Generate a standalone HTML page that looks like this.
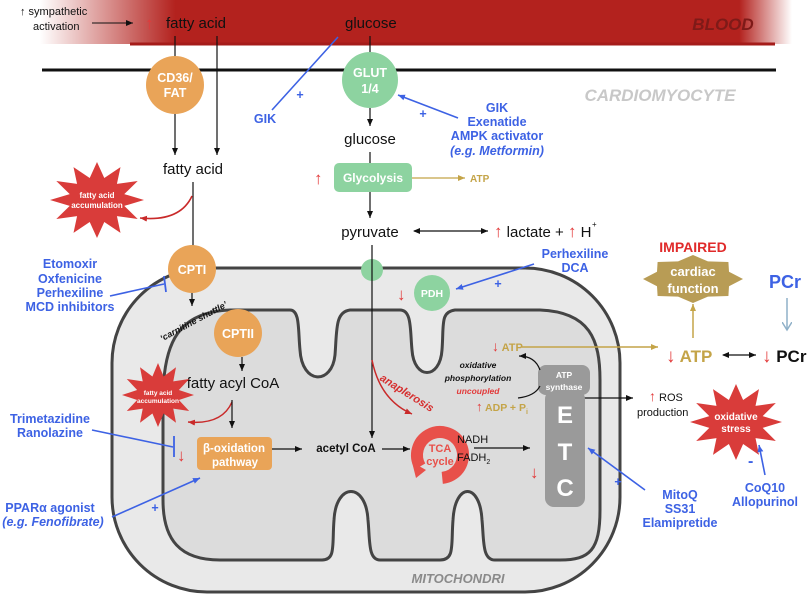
<!DOCTYPE html>
<html><head><meta charset="utf-8"><style>
html,body{margin:0;padding:0;background:#fff}
svg{display:block;font-family:"Liberation Sans",sans-serif}
.b{fill:#3d62e4;font-weight:bold;font-size:12.5px;text-anchor:middle}
.w{fill:#fff;font-weight:bold;text-anchor:middle}
.r{fill:#e23a3a;font-weight:bold}
</style></head><body>
<svg width="812" height="604" viewBox="0 0 812 604" xmlns="http://www.w3.org/2000/svg">
<defs>
<linearGradient id="bl" x1="0" x2="1" y1="0" y2="0">
<stop offset="0" stop-color="#b3221e" stop-opacity="0"/>
<stop offset="0.18" stop-color="#b3221e"/>
<stop offset="0.93" stop-color="#b3221e"/>
<stop offset="1" stop-color="#b3221e" stop-opacity="0"/>
</linearGradient>
<marker id="ak" markerWidth="8" markerHeight="8" refX="7" refY="4" orient="auto" markerUnits="userSpaceOnUse"><path d="M0,1 L7,4 L0,7 Z" fill="#111"/></marker>
<marker id="aks" markerWidth="8" markerHeight="8" refX="1" refY="4" orient="auto" markerUnits="userSpaceOnUse"><path d="M7,1 L0,4 L7,7 Z" fill="#111"/></marker>
<marker id="ag" markerWidth="8" markerHeight="8" refX="7" refY="4" orient="auto" markerUnits="userSpaceOnUse"><path d="M0,1 L7,4 L0,7 Z" fill="#c4a448"/></marker>
<marker id="ab" markerWidth="8" markerHeight="8" refX="7" refY="4" orient="auto" markerUnits="userSpaceOnUse"><path d="M0,1 L7,4 L0,7 Z" fill="#3d62e4"/></marker>
<marker id="ar" markerWidth="8" markerHeight="8" refX="7" refY="4" orient="auto" markerUnits="userSpaceOnUse"><path d="M0,1 L7,4 L0,7 Z" fill="#c92a2a"/></marker>
<marker id="al" markerWidth="10" markerHeight="10" refX="8" refY="5" orient="auto" markerUnits="userSpaceOnUse"><path d="M0,0 L8,5 L0,10" fill="none" stroke="#8fb0c8" stroke-width="1.5"/></marker>
<polygon id="star" points="100,0 58,15.5 86.6,50 42.4,42.4 50,86.6 15.5,58 0,100 -15.5,58 -50,86.6 -42.4,42.4 -86.6,50 -58,15.5 -100,0 -58,-15.5 -86.6,-50 -42.4,-42.4 -50,-86.6 -15.5,-58 0,-100 15.5,-58 50,-86.6 42.4,-42.4 86.6,-50 58,-15.5"/>
</defs>

<!-- blood -->
<rect x="40" y="0" width="752" height="44" fill="url(#bl)"/>
<line x1="130" y1="44" x2="775" y2="44" stroke="#a51c1a" stroke-width="3"/>
<line x1="42" y1="70" x2="776" y2="70" stroke="#111" stroke-width="3"/>
<text x="723" y="30" font-size="17" font-weight="bold" font-style="italic" fill="#7e1a18" text-anchor="middle">BLOOD</text>
<text x="660" y="101" font-size="17" font-weight="bold" font-style="italic" fill="#c8c8c8" text-anchor="middle">CARDIOMYOCYTE</text>

<text x="20" y="15" font-size="11" fill="#111">↑ sympathetic</text>
<text x="33" y="30" font-size="11" fill="#111">activation</text>
<line x1="92" y1="23" x2="133" y2="23" stroke="#111" stroke-width="1" marker-end="url(#ak)"/>
<text x="145" y="29" font-size="17" class="r">↑</text>
<text x="166" y="28" font-size="15" fill="#111">fatty acid</text>
<text x="345" y="28" font-size="15" fill="#111">glucose</text>

<!-- FA transport -->
<line x1="175" y1="36" x2="175" y2="155" stroke="#111" stroke-width="1.2" marker-end="url(#ak)"/>
<line x1="217" y1="36" x2="217" y2="155" stroke="#111" stroke-width="1.2" marker-end="url(#ak)"/>
<circle cx="175" cy="85" r="29" fill="#e9a458"/>
<text x="175" y="82" class="w" font-size="12.5">CD36/</text>
<text x="175" y="97" class="w" font-size="12.5">FAT</text>
<text x="193" y="174" font-size="15" fill="#111" text-anchor="middle">fatty acid</text>
<line x1="193" y1="182" x2="193" y2="250" stroke="#111" stroke-width="1.2"/>
<path d="M192,196 Q180,222 140,218" fill="none" stroke="#c92a2a" stroke-width="1.6" marker-end="url(#ar)"/>
<use href="#star" transform="translate(97,200) scale(0.47,0.38)" fill="#d93c3a"/>
<text x="97" y="198" class="w" font-size="8">fatty acid</text>
<text x="97" y="208" class="w" font-size="8">accumulation</text>

<!-- glucose -->
<line x1="370" y1="36" x2="370" y2="126" stroke="#111" stroke-width="1.2" marker-end="url(#ak)"/>
<circle cx="370" cy="80" r="28" fill="#8dd3a0"/>
<text x="370" y="77" class="w" font-size="12.5">GLUT</text>
<text x="370" y="93" class="w" font-size="12.5">1/4</text>
<line x1="338" y1="37" x2="272" y2="110" stroke="#3d62e4" stroke-width="1.6"/>
<text x="265" y="123" class="b">GIK</text>
<text x="300" y="99" class="b">+</text>
<line x1="458" y1="118" x2="398" y2="95" stroke="#3d62e4" stroke-width="1.6" marker-end="url(#ab)"/>
<text x="423" y="118" class="b">+</text>
<text x="497" y="112" class="b">GIK</text>
<text x="497" y="126" class="b">Exenatide</text>
<text x="497" y="140" class="b">AMPK activator</text>
<text x="497" y="155" class="b" font-style="italic">(e.g. Metformin)</text>
<text x="370" y="144" font-size="15" fill="#111" text-anchor="middle">glucose</text>
<line x1="370" y1="152" x2="370" y2="218" stroke="#111" stroke-width="1.2" marker-end="url(#ak)"/>
<rect x="334" y="163" width="78" height="29" rx="5" fill="#8dd3a0"/>
<text x="373" y="182" class="w" font-size="12">Glycolysis</text>
<text x="314" y="184" font-size="17" class="r">↑</text>
<line x1="412" y1="178" x2="465" y2="178" stroke="#c4a448" stroke-width="1.2" marker-end="url(#ag)"/>
<text x="470" y="182" font-size="10" font-weight="bold" fill="#c4a448">ATP</text>
<text x="370" y="237" font-size="15" fill="#111" text-anchor="middle">pyruvate</text>
<line x1="414" y1="231" x2="488" y2="231" stroke="#111" stroke-width="1.3" marker-end="url(#ak)" marker-start="url(#aks)"/>
<text x="494" y="237" font-size="15" fill="#111"><tspan class="r" font-size="17">↑</tspan> lactate + <tspan class="r" font-size="17">↑</tspan> H</text>
<text x="592" y="227" font-size="8" fill="#111">+</text>

<!-- mitochondrion -->
<rect x="112" y="268" width="508" height="324" rx="95" fill="#e9e9e9" stroke="#444" stroke-width="3"/>
<path d="M163,400 C163,340 180,312 230,310 L290,310 C300,310 298,330 300,350 C302,385 332,385 335,355 C337,330 335,312 350,310 L400,310 C412,310 410,330 412,350 C414,380 440,380 442,350 C444,325 440,312 455,310 L540,310 C590,312 600,340 600,380 L600,510 C600,550 590,560 560,560 L495,560 C482,560 484,540 482,520 C480,482 455,482 453,520 C451,545 455,560 440,560 L380,560 C368,560 370,540 368,520 C366,482 336,482 334,520 C332,545 336,560 322,560 L220,560 C180,560 163,540 163,500 Z" fill="#dcdcdc" stroke="#444" stroke-width="3"/>
<text x="458" y="583" font-size="13" font-weight="bold" font-style="italic" fill="#8a8a8a" text-anchor="middle">MITOCHONDRI</text>

<circle cx="372" cy="270" r="11" fill="#8dd3a0"/>
<line x1="372" y1="245" x2="372" y2="438" stroke="#111" stroke-width="1.2" marker-end="url(#ak)"/>

<!-- CPT -->
<line x1="110" y1="296" x2="164" y2="284" stroke="#3d62e4" stroke-width="1.6"/>
<line x1="164" y1="276" x2="166" y2="292" stroke="#3d62e4" stroke-width="1.8"/>
<text x="70" y="268" class="b">Etomoxir</text>
<text x="70" y="283" class="b">Oxfenicine</text>
<text x="70" y="297" class="b">Perhexiline</text>
<text x="70" y="311" class="b">MCD inhibitors</text>
<line x1="192" y1="292" x2="192" y2="306" stroke="#111" stroke-width="1.2" marker-end="url(#ak)"/>
<circle cx="192" cy="269" r="24" fill="#e9a458"/>
<text x="192" y="274" class="w" font-size="12.5">CPTI</text>
<text x="195" y="324" font-size="9" font-weight="bold" font-style="italic" fill="#111" text-anchor="middle" transform="rotate(-28 195 324)">‘carnitine shuttle’</text>
<circle cx="238" cy="333" r="24" fill="#e9a458"/>
<text x="238" y="338" class="w" font-size="12.5">CPTII</text>
<line x1="242" y1="357" x2="242" y2="371" stroke="#111" stroke-width="1.2" marker-end="url(#ak)"/>
<text x="233" y="388" font-size="15" fill="#111" text-anchor="middle">fatty acyl CoA</text>
<use href="#star" transform="translate(158,395) scale(0.36,0.32)" fill="#d93c3a"/>
<text x="158" y="395" class="w" font-size="6.5">fatty acid</text>
<text x="158" y="403" class="w" font-size="6.5">accumulation</text>
<path d="M232,402 Q222,425 188,422" fill="none" stroke="#c92a2a" stroke-width="1.5" marker-end="url(#ar)"/>
<line x1="232" y1="400" x2="232" y2="428" stroke="#111" stroke-width="1.2" marker-end="url(#ak)"/>
<text x="50" y="423" class="b">Trimetazidine</text>
<text x="50" y="437" class="b">Ranolazine</text>
<line x1="92" y1="430" x2="173" y2="447" stroke="#3d62e4" stroke-width="1.6"/>
<line x1="174" y1="436" x2="174" y2="457" stroke="#3d62e4" stroke-width="1.8"/>
<text x="177" y="461" font-size="17" class="r">↓</text>
<rect x="197" y="437" width="75" height="33" rx="4" fill="#e9a458"/>
<text x="234" y="452" class="w" font-size="11.5">β-oxidation</text>
<text x="235" y="466" class="w" font-size="11.5">pathway</text>
<line x1="272" y1="449" x2="302" y2="449" stroke="#111" stroke-width="1.2" marker-end="url(#ak)"/>
<text x="346" y="452" font-size="11.5" font-weight="bold" fill="#111" text-anchor="middle">acetyl CoA</text>
<line x1="382" y1="449" x2="410" y2="449" stroke="#111" stroke-width="1.2" marker-end="url(#ak)"/>
<text x="50" y="512" class="b">PPARα agonist</text>
<text x="53" y="526" class="b" font-style="italic">(e.g. Fenofibrate)</text>
<line x1="112" y1="517" x2="200" y2="478" stroke="#3d62e4" stroke-width="1.6" marker-end="url(#ab)"/>
<text x="155" y="512" class="b">+</text>

<!-- TCA -->
<circle cx="440" cy="455" r="23" fill="none" stroke="#e8504a" stroke-width="12" stroke-dasharray="118 27" transform="rotate(150 440 455)"/>
<path d="M412,462 L426,470 L416,478 Z" fill="#e8504a"/>
<text x="440" y="452" font-size="11" font-weight="bold" fill="#e8504a" text-anchor="middle">TCA</text>
<text x="440" y="465" font-size="11" font-weight="bold" fill="#e8504a" text-anchor="middle">cycle</text>
<path d="M372,360 Q380,400 412,414" fill="none" stroke="#c92a2a" stroke-width="1.5" marker-end="url(#ar)"/>
<text x="405" y="396" font-size="11" font-weight="bold" font-style="italic" fill="#d63030" text-anchor="middle" transform="rotate(32 405 396)">anaplerosis</text>
<text x="457" y="443" font-size="11" fill="#111">NADH</text>
<text x="457" y="461" font-size="11" fill="#111">FADH<tspan font-size="7" dy="3">2</tspan></text>
<line x1="474" y1="448" x2="530" y2="448" stroke="#111" stroke-width="1.2" marker-end="url(#ak)"/>
<text x="530" y="478" font-size="17" class="r">↓</text>

<!-- ETC -->
<line x1="580" y1="398" x2="633" y2="398" stroke="#111" stroke-width="1.2" marker-end="url(#ak)"/>
<rect x="545" y="390" width="40" height="117" rx="9" fill="#9a9a9a"/>
<text x="565" y="423" class="w" font-size="24">E</text>
<text x="565" y="460" class="w" font-size="24">T</text>
<text x="565" y="496" class="w" font-size="24">C</text>
<rect x="538" y="365" width="52" height="30" rx="8" fill="#9a9a9a"/>
<text x="564" y="378" class="w" font-size="8.5">ATP</text>
<text x="564" y="390" class="w" font-size="8.5">synthase</text>
<path d="M540,370 Q535,356 519,356" fill="none" stroke="#111" stroke-width="1.2" marker-end="url(#ak)"/>
<path d="M518,398 Q535,396 540,386" fill="none" stroke="#111" stroke-width="1.2"/>
<text x="492" y="351" font-size="11" font-weight="bold" fill="#c4a448"><tspan class="r" font-size="14">↓</tspan> ATP</text>
<line x1="522" y1="347" x2="658" y2="347" stroke="#c4a448" stroke-width="1.5" marker-end="url(#ag)"/>
<text x="478" y="368" font-size="8.5" font-weight="bold" font-style="italic" fill="#111" text-anchor="middle">oxidative</text>
<text x="478" y="381" font-size="8.5" font-weight="bold" font-style="italic" fill="#111" text-anchor="middle">phosphorylation</text>
<text x="478" y="394" font-size="8.5" font-weight="bold" font-style="italic" fill="#e23a3a" text-anchor="middle">uncoupled</text>
<text x="476" y="411" font-size="10.5" font-weight="bold" fill="#c4a448"><tspan class="r" font-size="13">↑</tspan> ADP + P<tspan font-size="7" dy="3">i</tspan></text>

<!-- PDH -->
<circle cx="432" cy="293" r="18" fill="#8dd3a0"/>
<text x="432" y="297" class="w" font-size="10.5">PDH</text>
<text x="397" y="300" font-size="17" class="r">↓</text>
<line x1="534" y1="264" x2="456" y2="289" stroke="#3d62e4" stroke-width="1.6" marker-end="url(#ab)"/>
<text x="498" y="288" class="b">+</text>
<text x="575" y="258" class="b">Perhexiline</text>
<text x="575" y="272" class="b">DCA</text>

<!-- right -->
<text x="693" y="252" font-size="14" font-weight="bold" fill="#e02a2a" text-anchor="middle">IMPAIRED</text>
<polygon points="743,279 729,286.3 728.4,296 707.9,296.6 693,303 678.1,296.6 657.6,296 657,286.3 643,279 657,271.7 657.6,262 678.1,261.4 693,255 707.9,261.4 728.4,262 729,271.7" fill="#b89c55"/>
<text x="693" y="276" class="w" font-size="13">cardiac</text>
<text x="693" y="293" class="w" font-size="13">function</text>
<line x1="693" y1="338" x2="693" y2="304" stroke="#c4a448" stroke-width="1.5" marker-end="url(#ag)"/>
<text x="666" y="362" font-size="17" font-weight="bold" fill="#c4a448"><tspan class="r" font-size="19">↓</tspan> ATP</text>
<line x1="723" y1="355" x2="756" y2="355" stroke="#111" stroke-width="1.3" marker-end="url(#ak)" marker-start="url(#aks)"/>
<text x="762" y="362" font-size="17" font-weight="bold" fill="#111"><tspan class="r" font-size="19">↓</tspan> PCr</text>
<text x="785" y="288" font-size="18" font-weight="bold" fill="#3d62e4" text-anchor="middle">PCr</text>
<line x1="787" y1="298" x2="787" y2="330" stroke="#8fb0c8" stroke-width="1.5" marker-end="url(#al)"/>
<text x="649" y="401" font-size="11" fill="#111"><tspan class="r" font-size="14">↑</tspan> ROS</text>
<text x="637" y="416" font-size="11" fill="#111">production</text>
<use href="#star" transform="translate(736,422) scale(0.46,0.38)" fill="#d93c3a"/>
<text x="736" y="420" class="w" font-size="10">oxidative</text>
<text x="736" y="432" class="w" font-size="10">stress</text>
<text x="748" y="466" font-size="16" font-weight="bold" fill="#3d62e4">-</text>
<line x1="765" y1="475" x2="759" y2="445" stroke="#3d62e4" stroke-width="1.6" marker-end="url(#ab)"/>
<text x="765" y="492" class="b">CoQ10</text>
<text x="765" y="506" class="b">Allopurinol</text>
<line x1="645" y1="490" x2="588" y2="448" stroke="#3d62e4" stroke-width="1.6" marker-end="url(#ab)"/>
<text x="618" y="486" class="b">+</text>
<text x="680" y="499" class="b">MitoQ</text>
<text x="680" y="513" class="b">SS31</text>
<text x="680" y="527" class="b">Elamipretide</text>
</svg>
</body></html>
